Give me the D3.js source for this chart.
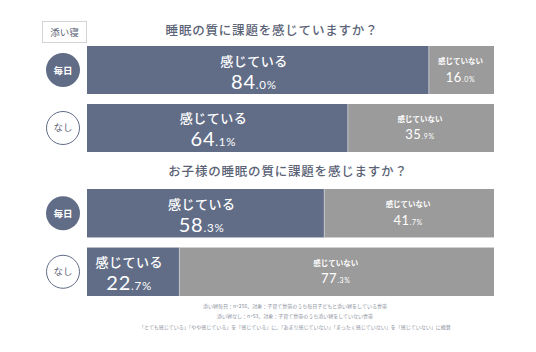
<!DOCTYPE html>
<html>
<head>
<meta charset="utf-8">
<script src="https://cdn.jsdelivr.net/npm/d3@7"></script>
<style>
  body { margin: 0; background: #fff; }
  text { font-family: "Noto Sans CJK JP", "Noto Sans", sans-serif; }
  .num { font-family: Lato, "Noto Sans", sans-serif; }
</style>
</head>
<body>
<svg id="chart" width="536" height="352"></svg>
<script>
// questions (one panel each)
const questions = ["睡眠の質に課題を感じていますか？", "お子様の睡眠の質に課題を感じますか？"];
// row groups
const groups = ["毎日", "なし"];
// share who feel it (感じている), per question then group
const feelYes = [[84.0, 64.1], [58.3, 22.7]];
const feelNo = [[16.0, 35.9], [41.7, 77.3]];
const yesLabel = "感じている";
const noLabel = "感じていない";
const boxLabel = "添い寝";
const notes = [
  "添い寝毎日：n=256、対象：子育て世帯のうち毎日子どもと添い寝をしている世帯",
  "添い寝なし：n=53、対象：子育て世帯のうち添い寝をしていない世帯",
  "「とても感じている」「やや感じている」を「感じている」に、「あまり感じていない」「まったく感じていない」を「感じていない」に換算"
];

const dark = "#616d87", grey = "#9b9b9b", textCol = "#5a6275";

const svg = d3.select("#chart");

const x = d3.scaleLinear().domain([0, 100]).range([87, 494]);

// panel vertical extents
const panels = [
  { top: 46, bottom: 152, titleY: 35, titleX: 272 },
  { top: 189, bottom: 296, titleY: 176, titleX: 288 }
];

// box label
svg.append("rect").attr("x", 42.5).attr("y", 21.5).attr("width", 44).attr("height", 21)
  .attr("fill", "#fff").attr("stroke", "#d4d4d4");
svg.append("text").attr("x", 64.5).attr("y", 36).attr("text-anchor", "middle")
  .attr("font-size", 9.5).attr("fill", textCol).text(boxLabel);

function pctText(sel, v, big, small) {
  const s = v.toFixed(1).split(".");
  sel.append("tspan").attr("class", "num").attr("font-size", big).text(s[0]);
  sel.append("tspan").attr("class", "num").attr("font-size", small).text("." + s[1] + "%");
}

panels.forEach((p, qi) => {
  svg.append("text").attr("x", p.titleX).attr("y", p.titleY).attr("text-anchor", "middle")
    .attr("font-size", 12.5).attr("font-weight", 500).attr("fill", textCol)
    .attr("letter-spacing", 0.8).text(questions[qi]);

  const y = d3.scaleBand().domain(groups).range([p.top, p.bottom]).paddingInner(0.1724);

  groups.forEach((g, gi) => {
    const yv = feelYes[qi][gi], nv = feelNo[qi][gi];
    const y0 = y(g), h = y.bandwidth();
    const g0 = svg.append("g");

    // group circle
    g0.append("circle").attr("cx", 63).attr("cy", y0 + h / 2).attr("r", gi === 0 ? 17 : 16.5)
      .attr("fill", gi === 0 ? dark : "#fff").attr("stroke", gi === 0 ? "none" : dark).attr("stroke-width", 1);
    g0.append("text").attr("x", 63).attr("y", y0 + h / 2 + 3.5).attr("text-anchor", "middle")
      .attr("font-size", 9.5).attr("font-weight", gi === 0 ? 700 : 400)
      .attr("fill", gi === 0 ? "#fff" : textCol).text(g);

    // bars
    g0.append("rect").attr("x", x(0)).attr("y", y0).attr("width", x(yv) - x(0)).attr("height", h).attr("fill", dark);
    g0.append("rect").attr("x", x(yv)).attr("y", y0).attr("width", x(yv + nv) - x(yv)).attr("height", h).attr("fill", grey);
    g0.append("line").attr("x1", x(yv)).attr("x2", x(yv)).attr("y1", y0).attr("y2", y0 + h)
      .attr("stroke", "#c9ccd4").attr("stroke-width", 0.8);

    // labels in dark part
    const cx1 = (x(0) + x(yv)) / 2 - 4;
    g0.append("text").attr("x", cx1).attr("y", y0 + 19.5).attr("text-anchor", "middle")
      .attr("font-size", 13).attr("font-weight", 500).attr("fill", "#fff")
      .attr("letter-spacing", 0.5).text(yesLabel);
    pctText(g0.append("text").attr("x", cx1).attr("y", y0 + 42.5).attr("text-anchor", "middle")
      .attr("fill", "#fff").attr("letter-spacing", 0.8), yv, 20, 11.5);

    // labels in grey part
    const cx2 = (x(yv) + x(yv + nv)) / 2 - 1;
    g0.append("text").attr("x", cx2).attr("y", y0 + 18).attr("text-anchor", "middle")
      .attr("font-size", 7.5).attr("font-weight", 700).attr("fill", "#fff").text(noLabel);
    pctText(g0.append("text").attr("x", cx2).attr("y", y0 + 35.5).attr("text-anchor", "middle")
      .attr("fill", "#fff").attr("letter-spacing", 0.6), nv, 13, 7);
  });
});

// footnotes
svg.selectAll("text.note").data(notes).join("text").attr("class", "note")
  .attr("x", 295).attr("y", (d, i) => 307.5 + i * 10.5).attr("text-anchor", "middle")
  .attr("font-size", 5).attr("fill", "#8a8f9c").text(d => d);
</script>
</body>
</html>
